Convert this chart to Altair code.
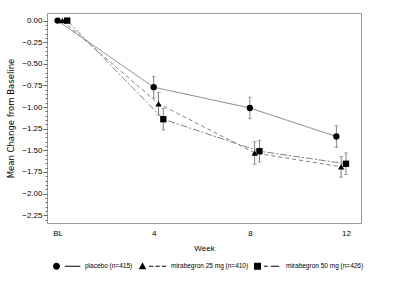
import altair as alt
import pandas as pd

series = ["placebo (n=415)", "mirabegron 25 mg (n=410)", "mirabegron 50 mg (n=426)"]
week_ticks = [0, 4, 8, 12]
week_labels = ["BL", "4", "8", "12"]
y_major = [0.0, -0.25, -0.5, -0.75, -1.0, -1.25, -1.5, -1.75, -2.0, -2.25]

# plotted x positions (weeks, with the small offsets seen in the figure)
x_placebo = [0.0, 4.0, 8.0, 11.6]
x_25 = [0.2, 4.2, 8.2, 11.8]
x_50 = [0.4, 4.4, 8.4, 12.0]

mean_placebo = [0.0, -0.77, -1.01, -1.34]
mean_25 = [0.0, -0.96, -1.53, -1.69]
mean_50 = [0.0, -1.14, -1.51, -1.655]

se_placebo = [0.0, 0.125, 0.125, 0.125]
se_25 = [0.0, 0.13, 0.13, 0.12]
se_50 = [0.0, 0.125, 0.125, 0.125]

rows = []
for s, xs, ms, es in zip(series, [x_placebo, x_25, x_50],
                         [mean_placebo, mean_25, mean_50],
                         [se_placebo, se_25, se_50]):
    for wk, xv, m, e in zip(week_ticks, xs, ms, es):
        rows.append({"series": s, "week": wk, "x": xv, "mean": m,
                     "lo": m - e, "hi": m + e})
df = pd.DataFrame(rows)

FONT = "Liberation Sans"
GREY = "#808080"

xscale = alt.Scale(domain=[-0.44, 12.625], nice=False, zero=False)
yscale = alt.Scale(domain=[-2.34, 0.088], nice=False, zero=False)

y_minor = [round(-0.05 * i, 2) for i in range(47)]
label_map = "{" + ", ".join(f"'{v}': '{l}'" for v, l in zip(week_ticks, week_labels)) + "}"

x_enc = alt.X("x:Q", scale=xscale,
              axis=alt.Axis(values=week_ticks, title="Week",
                            labelExpr=label_map + "[datum.label]",
                            ticks=False, domain=False, grid=False,
                            labelFontSize=8, labelPadding=6, titlePadding=7,
                            titleFontSize=8, titleFontWeight="normal",
                            labelColor="black", titleColor="black"))
y_enc = alt.Y("mean:Q", scale=yscale,
              axis=alt.Axis(values=y_major, format=".2f", orient="left",
                            title="Mean Change from Baseline",
                            tickSize=4, tickColor="#666", domain=False, grid=False,
                            labelFontSize=8, labelPadding=1, titlePadding=6,
                            titleFont="DejaVu Sans", titleFontSize=8.5,
                            titleFontWeight="normal",
                            labelColor="black", titleColor="black"))

base = alt.Chart(df)

lines = base.mark_line(color=GREY, strokeWidth=1).encode(
    x=x_enc, y=y_enc,
    strokeDash=alt.StrokeDash("series:N",
                              scale=alt.Scale(domain=series, range=[[1, 0], [4, 3], [7, 2, 2, 2]]),
                              legend=None),
    order="x:Q",
)

rules = base.transform_filter("datum.week > 0").mark_rule(color=GREY, strokeWidth=1).encode(
    x="x:Q",
    y=alt.Y("lo:Q", scale=yscale,
            axis=alt.Axis(values=y_minor, orient="left", labels=False, title=None,
                          tickSize=2, tickColor="#666", domain=False, grid=False)),
    y2="hi:Q")
cap_lo = base.transform_filter("datum.week > 0").mark_tick(
    orient="horizontal", color=GREY, size=4, thickness=1).encode(
    x="x:Q", y=alt.Y("lo:Q", axis=None))
cap_hi = base.transform_filter("datum.week > 0").mark_tick(
    orient="horizontal", color=GREY, size=4, thickness=1).encode(
    x="x:Q", y=alt.Y("hi:Q", axis=None))

points = base.mark_point(filled=True, size=40, color="black", opacity=1).encode(
    x="x:Q", y=alt.Y("mean:Q", axis=None),
    shape=alt.Shape("series:N",
                    scale=alt.Scale(domain=series, range=["circle", "triangle-up", "square"]),
                    legend=None),
)

# legend symbols: marker followed by a line sample (lines drawn as thin filled bars)
def bar(a, b):
    return f"M{a},-0.04 L{b},-0.04 L{b},0.04 L{a},0.04 Z"

p_circle = ("M-0.5,0 A0.25,0.25 0 1,1 -1,0 A0.25,0.25 0 1,1 -0.5,0 Z " + bar(-0.15, 0.95))
p_tri = ("M-0.75,-0.28 L-0.48,0.22 L-1.02,0.22 Z " +
         bar(-0.28, 0.02) + " " + bar(0.18, 0.48) + " " + bar(0.64, 0.94))
p_sq = ("M-1,-0.25 L-0.5,-0.25 L-0.5,0.25 L-1,0.25 Z " +
        bar(-0.3, -0.02) + " " + bar(0.2, 0.8))

legend_layer = base.mark_point(filled=True, color="black", opacity=0).encode(
    x="x:Q", y=alt.Y("mean:Q", axis=None),
    shape=alt.Shape("series:N",
                    scale=alt.Scale(domain=series, range=[p_circle, p_tri, p_sq]),
                    legend=alt.Legend(title=None, orient="none", legendX=6, legendY=239,
                                      direction="horizontal", symbolSize=784,
                                      symbolStrokeWidth=0, symbolOpacity=1,
                                      symbolFillColor="black",
                                      labelFont=FONT, labelFontSize=6.5, labelColor="black",
                                      labelOffset=4, columnPadding=5, labelLimit=200)),
)

chart = alt.layer(lines, rules, cap_lo, cap_hi, points, legend_layer).resolve_scale(
    shape="independent"
).resolve_axis(y="independent").properties(
    width=314, height=210,
    autosize=alt.AutoSizeParams(type="none"),
    padding={"left": 47, "top": 13, "right": 39, "bottom": 61},
).configure(font=FONT).configure_view(stroke="#999999", strokeWidth=1)

chart.save("out.html", embed_options={"renderer": "svg", "actions": False})
